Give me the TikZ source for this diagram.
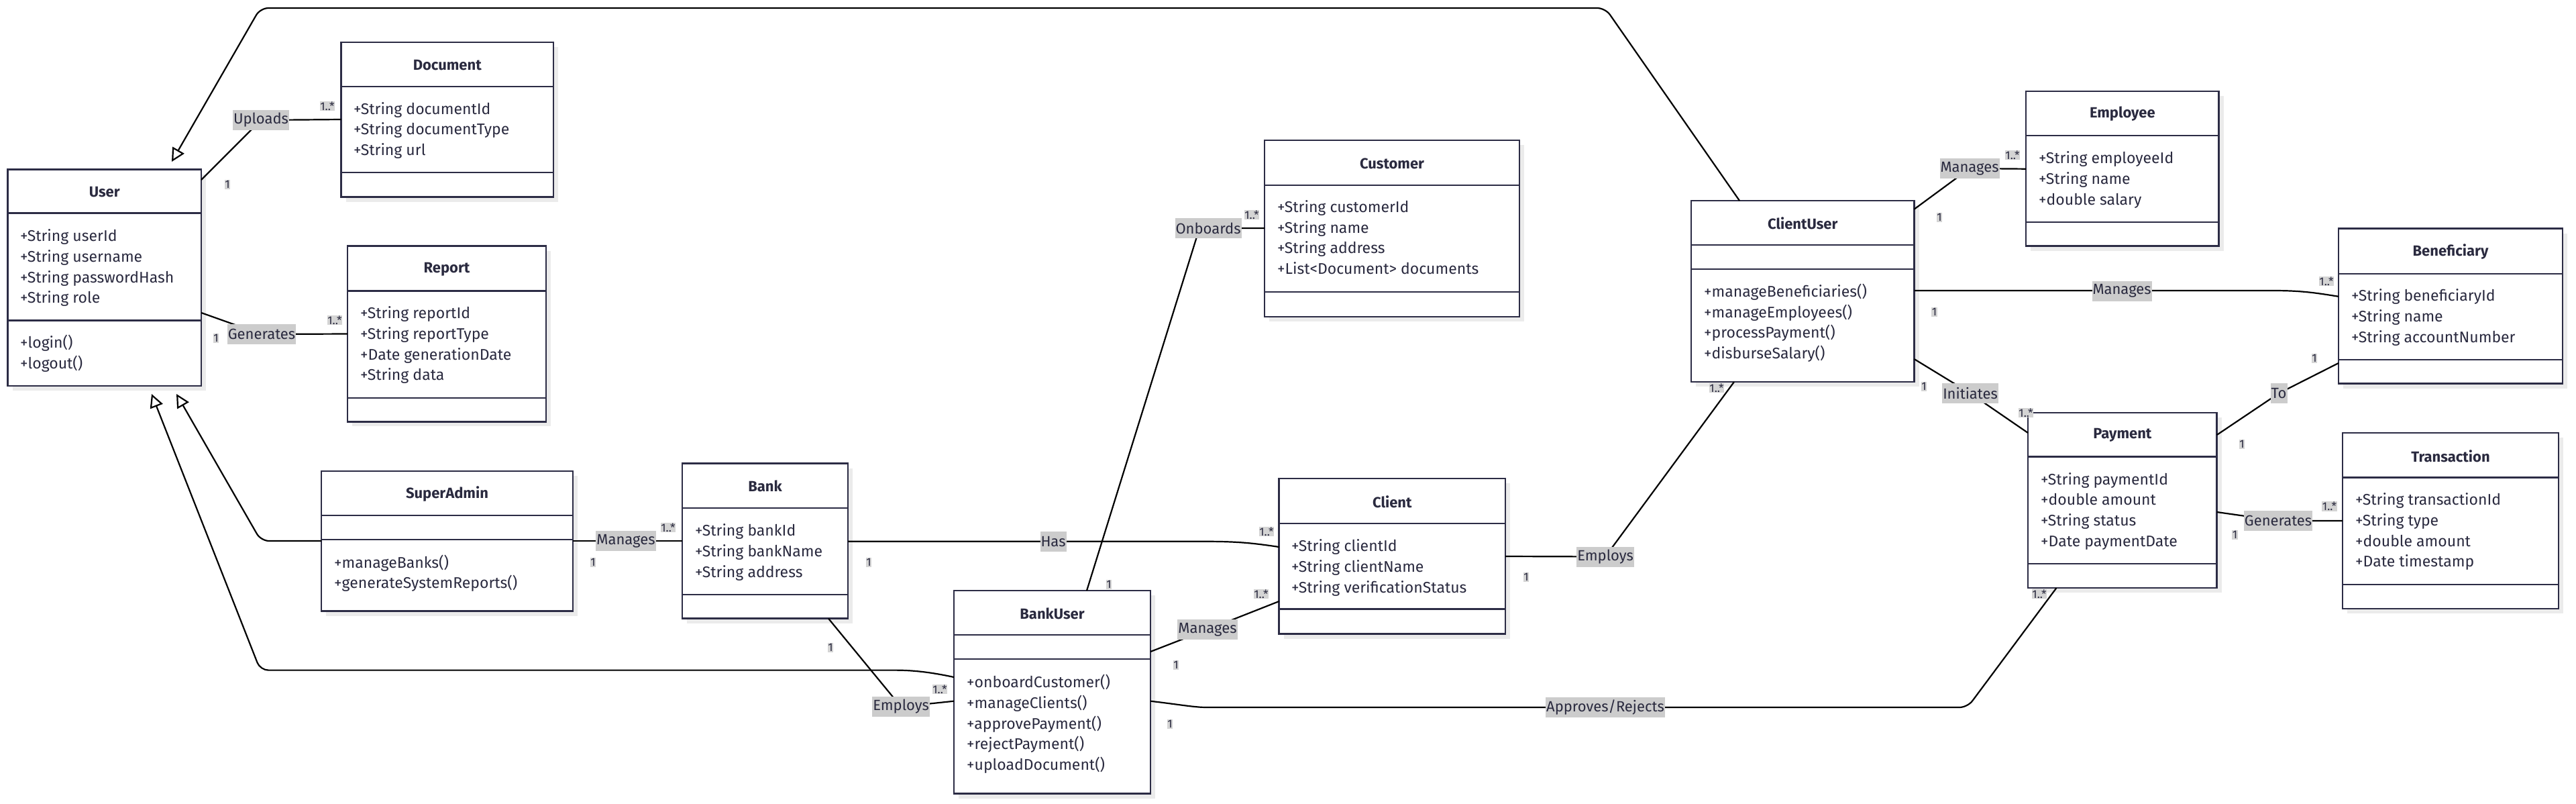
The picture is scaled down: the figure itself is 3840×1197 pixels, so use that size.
\documentclass[tikz,border=0pt]{standalone}
\usepackage{fontspec}
\setmainfont{Fira Sans}
\usetikzlibrary{arrows.meta,calc}
\definecolor{boxc}{HTML}{2C2C45}
\definecolor{txtc}{HTML}{2A2A3F}
\definecolor{lblbg}{HTML}{CCCCCC}
\definecolor{multbg}{HTML}{D4D4D4}
\definecolor{shadowc}{HTML}{EBEBEB}
\tikzset{
  classbox/.style={draw=boxc, line width=2.6pt, fill=white, inner sep=0pt, outer sep=0pt},
  divider/.style={draw=boxc, line width=2.6pt},
  ctitle/.style={font=\fontsize{22}{26}\selectfont\bfseries, text=txtc, inner sep=0pt},
  member/.style={font=\fontsize{23}{27}\selectfont, text=txtc, inner sep=0pt, anchor=west, text height=16pt, text depth=5pt},
  edge/.style={draw=black, line width=2.2pt, rounded corners=12pt},
  elabel/.style={fill=lblbg, text=txtc, font=\fontsize{22}{26}\selectfont, inner xsep=1pt, inner ysep=0pt, minimum height=30pt},
  mult/.style={fill=multbg, text=txtc, font=\fontsize{17}{20}\selectfont, inner xsep=0.5pt, inner ysep=1pt},
  inh/.style={-{Triangle[open,length=20pt,width=20pt,line width=2.2pt]}}
}
\newcommand\umlclass[8]{%
  \fill[shadowc] ({#2+7},{#3+7}) rectangle ({#4+7},{#5+7});
  \node[classbox, anchor=north west, minimum width={#4-#2}, minimum height={#5-#3}] (#1) at (#2,#3) {};
  \draw[divider] (#2,#6) -- (#4,#6);
  \draw[divider] (#2,#7) -- (#4,#7);
  \node[ctitle] (#1-name) at ({(#2+#4)/2},{(#3+#6)/2+1}) {#8};
}
\newcommand\members[4]{%
  \foreach \m [count=\i from 0] in {#4} {\node[member] (#1-\i) at (#2,{#3+30.8*\i}) {\m};}
}
\begin{document}
\begin{tikzpicture}[x=1pt,y=-1pt]
\useasboundingbox (0,0) rectangle (3840,1197);
\fill[white] (0,0) rectangle (3840,1197);

% ---------- classes ----------
\umlclass{User}{11.5}{252.6}{300}{575}{317.6}{477.6}{User}
\members{User-a}{30}{354}{+String userId,+String username,+String passwordHash,+String role}
\members{User-m}{30}{513}{+login(),+logout()}

\umlclass{Document}{508.6}{63}{825}{293.5}{129}{257}{Document}
\members{Document-a}{527}{164.6}{+String documentId,+String documentType,+String url}

\umlclass{Report}{518}{366.6}{814}{628.4}{433.6}{593}{Report}
\members{Report-a}{537}{469}{+String reportId,+String reportType,+Date generationDate,+String data}

\umlclass{SuperAdmin}{479}{702}{854}{910.5}{768}{804}{SuperAdmin}
\members{SuperAdmin-m}{498}{840.5}{+manageBanks(),+generateSystemReports()}

\umlclass{Bank}{1017}{690.6}{1264}{921.7}{757}{886}{Bank}
\members{Bank-a}{1036}{793}{+String bankId,+String bankName,+String address}

\umlclass{Customer}{1885}{209}{2265}{472}{276}{435}{Customer}
\members{Customer-a}{1904}{310.7}{+String customerId,+String name,+String address,+List<Document> documents}

\umlclass{Client}{1906.6}{713}{2244}{944.5}{780}{907.6}{Client}
\members{Client-a}{1925}{816}{+String clientId,+String clientName,+String verificationStatus}

\umlclass{BankUser}{1422}{880}{1715}{1182.5}{946}{982}{BankUser}
\members{BankUser-m}{1441}{1019}{+onboardCustomer(),+manageClients(),+approvePayment(),+rejectPayment(),+uploadDocument()}

\umlclass{ClientUser}{2521}{299}{2853.5}{569}{365}{401}{ClientUser}
\members{ClientUser-m}{2540}{436.7}{+manageBeneficiaries(),+manageEmployees(),+processPayment(),+disburseSalary()}

\umlclass{Employee}{3020}{136}{3307.6}{366.7}{202}{331}{Employee}
\members{Employee-a}{3039}{238}{+String employeeId,+String name,+double salary}

\umlclass{Beneficiary}{3486}{340.6}{3820}{571.5}{407.8}{536}{Beneficiary}
\members{Beneficiary-a}{3505}{443}{+String beneficiaryId,+String name,+String accountNumber}

\umlclass{Payment}{3023}{615}{3304.7}{876}{680.5}{840}{Payment}
\members{Payment-a}{3042}{716.6}{+String paymentId,+double amount,+String status,+Date paymentDate}

\umlclass{Transaction}{3492}{645}{3814}{907}{711.6}{871}{Transaction}
\members{Transaction-a}{3511}{747}{+String transactionId,+String type,+double amount,+Date timestamp}

% ---------- inheritance ----------
\coordinate (tipA) at (256,241);
\coordinate (tipB) at (263,587);
\coordinate (tipC) at (226,587);
\coordinate (bendA1) at (2393,12);
\coordinate (bendA2) at (388,12);
\coordinate (bendB) at (389,806);
\coordinate (bendC1) at (1320,998.6);
\coordinate (bendC2) at (388,998.6);
\draw[edge,inh] ($(ClientUser.north west)+(72,0)$) -- (bendA1) -- (bendA2) -- (tipA);
\draw[edge,inh] ($(SuperAdmin.north west)+(0,104)$) -- (bendB) -- (tipB);
\draw[edge,inh] ($(BankUser.north west)+(0,129)$) .. controls (1380,1000) and (1355,998.6) .. (bendC1) -- (bendC2) -- (tipC);

% ---------- associations ----------
\coordinate (cUp) at (389,179);
\draw[edge] ($(User.north east)+(0,15.4)$) -- (cUp) -- ($(Document.north west)+(0,115)$);
\node[elabel] (lUp) at (cUp) {Uploads};
\node[mult] (mUp1) at (339,275) {1};
\node[mult] (mUp2) at (488,158) {1..*};

\coordinate (cGen) at (390,498);
\draw[edge] ($(User.north east)+(0,213.4)$) -- (cGen) -- ($(Report.north west)+(0,130.9)$);
\node[elabel] (lGen) at (cGen) {Generates};
\node[mult] (mGen1) at (322,504) {1};
\node[mult] (mGen2) at (499,477) {1..*};

\coordinate (cSB) at (933,806);
\draw[edge] ($(SuperAdmin.north east)+(0,104)$) -- ($(Bank.north west)+(0,115.4)$);
\node[elabel] (lSB) at (cSB) {Manages};
\node[mult] (mSB1) at (884,838) {1};
\node[mult] (mSB2) at (996,786) {1..*};

\coordinate (cHas) at (1570,806.7);
\coordinate (bHas) at (1771,806.7);
\draw[edge] ($(Bank.north east)+(0,116.1)$) -- (bHas) .. controls (1840,806.7) and (1860,808) .. ($(Client.north west)+(0,102)$);
\node[elabel] (lHas) at (cHas) {Has};
\node[mult] (mHas1) at (1295,838) {1};
\node[mult] (mHas2) at (1888,792) {1..*};

\coordinate (cEmp) at (1343,1053);
\draw[edge] ($(Bank.south west)+(218,0)$) -- (cEmp) -- ($(BankUser.north west)+(0,164.7)$);
\node[elabel] (lEmp) at (cEmp) {Employs};
\node[mult] (mEmp1) at (1238,965) {1};
\node[mult] (mEmp2) at (1401,1027) {1..*};

\coordinate (cOnb) at (1801,340);
\coordinate (bOnb) at (1788,340);
\draw[edge] ($(BankUser.north west)+(198,0)$) -- (bOnb) -- ($(Customer.north west)+(0,131)$);
\node[elabel] (lOnb) at (cOnb) {Onboards};
\node[mult] (mOnb1) at (1653,871) {1};
\node[mult] (mOnb2) at (1866,320) {1..*};

\coordinate (cBMC) at (1800,938);
\draw[edge] ($(BankUser.north east)+(0,91)$) -- (cBMC) -- ($(Client.north west)+(0,183)$);
\node[elabel] (lBMC) at (cBMC) {Manages};
\node[mult] (mBMC1) at (1753,991) {1};
\node[mult] (mBMC2) at (1880,885) {1..*};

\coordinate (cApp) at (2393,1054);
\coordinate (bApp1) at (1811,1054);
\coordinate (bApp2) at (2933,1054);
\draw[edge] ($(BankUser.north east)+(0,164.7)$) .. controls (1760,1050) and (1780,1054) .. (bApp1) -- (bApp2) -- ($(Payment.south west)+(42.5,0)$);
\node[elabel] (lApp) at (cApp) {Approves/Rejects};
\node[mult] (mApp1) at (1744,1079) {1};
\node[mult] (mApp2) at (3040,885) {1..*};

\coordinate (cCE) at (2393,829.5);
\draw[edge] ($(Client.north east)+(0,116)$) -- (cCE) -- ($(ClientUser.south west)+(64,0)$);
\node[elabel] (lCE) at (cCE) {Employs};
\node[mult] (mCE1) at (2275,860) {1};
\node[mult] (mCE2) at (2559,578) {1..*};

\coordinate (cCUE) at (2936,251);
\draw[edge] ($(ClientUser.north east)+(0,12.7)$) -- (cCUE) -- ($(Employee.north west)+(0,115.7)$);
\node[elabel] (lCUE) at (cCUE) {Manages};
\node[mult] (mCUE1) at (2891,324) {1};
\node[mult] (mCUE2) at (3000,231) {1..*};

\coordinate (cCUB) at (3163,433.5);
\coordinate (bCUB) at (3376,433);
\draw[edge] ($(ClientUser.north east)+(0,134)$) -- (bCUB) .. controls (3430,433) and (3450,436) .. ($(Beneficiary.north west)+(0,101.2)$);
\node[elabel] (lCUB) at (cCUB) {Manages};
\node[mult] (mCUB1) at (2883.5,465) {1};
\node[mult] (mCUB2) at (3468,419) {1..*};

\coordinate (cIni) at (2937,586);
\draw[edge] ($(ClientUser.north east)+(0,236)$) -- (cIni) -- ($(Payment.north west)+(0,30)$);
\node[elabel] (lIni) at (cIni) {Initiates};
\node[mult] (mIni1) at (2868,576) {1};
\node[mult] (mIni2) at (3020,615) {1..*};

\coordinate (cTo) at (3397,586);
\draw[edge] ($(Payment.north east)+(0,33)$) -- (cTo) -- ($(Beneficiary.north west)+(0,200.4)$);
\node[elabel] (lTo) at (cTo) {To};
\node[mult] (mTo1) at (3342,662) {1};
\node[mult] (mTo2) at (3450,534) {1};

\coordinate (cPT) at (3396,776);
\draw[edge] ($(Payment.north east)+(0,148)$) -- (cPT) -- ($(Transaction.north west)+(0,131)$);
\node[elabel] (lPT) at (cPT) {Generates};
\node[mult] (mPT1) at (3331.6,797) {1};
\node[mult] (mPT2) at (3472.5,754.7) {1..*};
\end{tikzpicture}
\end{document}
